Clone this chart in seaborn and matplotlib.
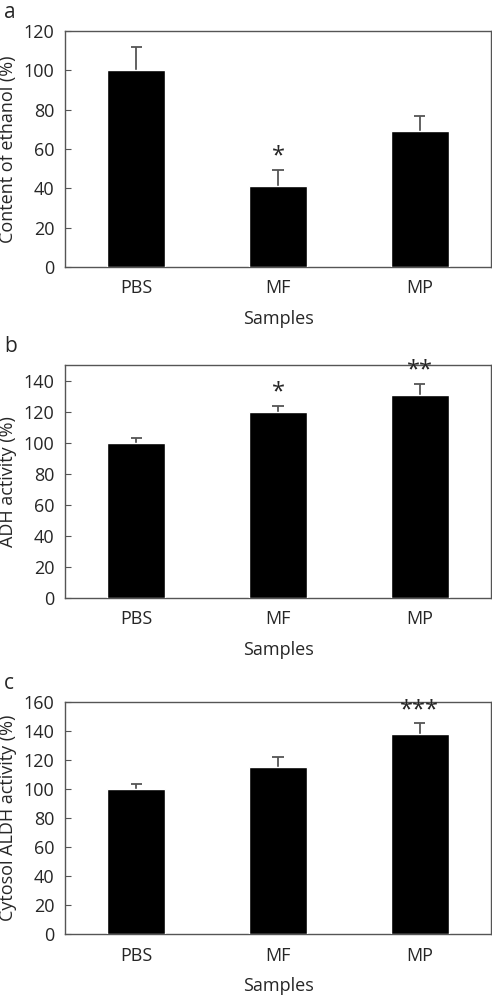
import matplotlib
matplotlib.use("Agg")
import matplotlib.pyplot as plt
import seaborn as sns
import pandas as pd

samples = ["PBS", "MF", "MP"]

ethanol = [100, 41.3, 69.1]
ethanol_err = [12, 8.2, 7.8]
ethanol_sig = ["", "*", ""]

adh = [100, 119.9, 130.7]
adh_err = [3, 4, 7.3]
adh_sig = ["", "*", "**"]

aldh = [100, 115.3, 137.9]
aldh_err = [3.5, 7, 7.3]
aldh_sig = ["", "", "***"]

sns.set_style("white")
plt.rcParams["font.family"] = ["Open Sans", "DejaVu Sans"]
plt.rcParams["font.size"] = 13

fig = plt.figure(figsize=(4.92, 9.96), dpi=100)

panels = [
    ("a", ethanol, ethanol_err, ethanol_sig, "Content of ethanol (%)", 120, [0.133, 0.732, 0.864, 0.237]),
    ("b", adh, adh_err, adh_sig, "ADH activity (%)", 150, [0.133, 0.400, 0.864, 0.2335]),
    ("c", aldh, aldh_err, aldh_sig, "Cytosol ALDH activity (%)", 160, [0.133, 0.0622, 0.864, 0.233]),
]

grey = "#555555"
for letter, vals, errs, sigs, ylabel, ymax, rect in panels:
    ax = fig.add_axes(rect)
    df = pd.DataFrame({"sample": samples, "value": vals})
    sns.barplot(data=df, x="sample", y="value", color="black", width=0.41,
                errorbar=None, ax=ax, saturation=1, zorder=3)
    xs = list(range(len(samples)))
    tops = [v + e for v, e in zip(vals, errs)]
    # upper error only, cap on top
    ax.vlines(xs, vals, tops, color=grey, linewidth=1.3, zorder=2)
    ax.hlines(tops, [x - 0.04 for x in xs], [x + 0.04 for x in xs], color=grey, linewidth=1.3, zorder=2)
    for x, t, s in zip(xs, tops, sigs):
        if s:
            ax.text(x, t + ymax * 0.005, s, ha="center", va="bottom", fontsize=17)
    ax.set_ylim(0, ymax)
    ax.set_xlim(-0.5, 2.5)
    ax.set_yticks(range(0, ymax if ymax % 20 else ymax + 1, 20))
    ax.set_xticks([0.5, 1.5], minor=True)
    ax.tick_params(axis="x", which="major", length=0, pad=9, labelsize=13)
    ax.tick_params(axis="x", which="minor", direction="in", length=4, color=grey)
    ax.tick_params(axis="y", direction="in", length=4, color=grey, labelsize=13, pad=8, left=True)
    ax.set_xlabel("Samples", fontsize=13, labelpad=9)
    ax.set_ylabel(ylabel, fontsize=13)
    ax.yaxis.set_label_coords(-0.115, 0.5)
    for sp in ax.spines.values():
        sp.set_color(grey)
        sp.set_linewidth(1.0)
    fig.text(0.008, rect[1] + rect[3] + 0.013, letter, fontsize=15, ha="left", va="baseline")

fig.savefig("out.png", dpi=100)
